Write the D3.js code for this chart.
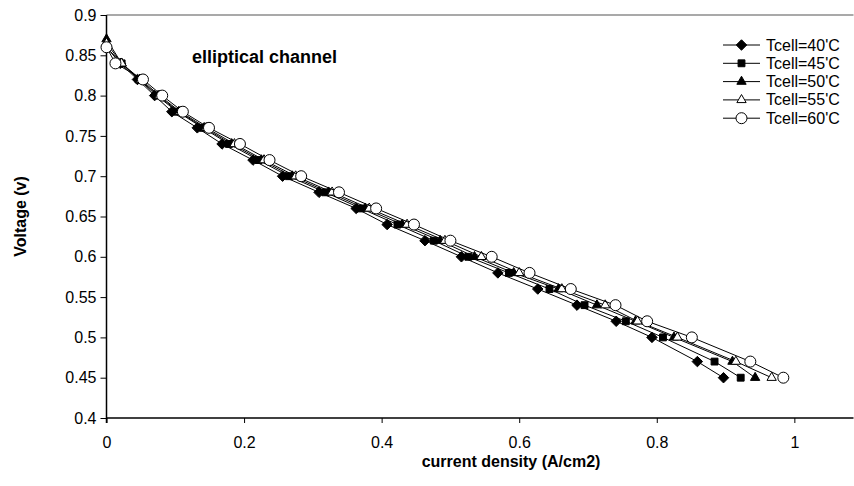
<!DOCTYPE html>
<html>
<head>
<meta charset="utf-8">
<script src="https://cdn.jsdelivr.net/npm/d3@7"></script>
<style>
    body { margin: 0; background: #fff; }
    text { font-family: Arial, "Liberation Sans", sans-serif; fill: #000; }
    .axis-title { font-weight: bold; font-size: 16px; }
    .tick-label { font-size: 16px; }
    .legend-label { font-size: 16px; }
</style>
</head>
<body>
<div id="chart-area"></div>
<script>
// Data: current density (A/cm2) at each voltage step
var voltage = [0.86, 0.84, 0.82, 0.80, 0.78, 0.76, 0.74, 0.72, 0.70, 0.68, 0.66,
               0.64, 0.62, 0.60, 0.58, 0.56, 0.54, 0.52, 0.50, 0.47, 0.45]
var voltage50 = [0.87].concat(voltage.slice(1))
var voltage55 = [0.865].concat(voltage.slice(1))

var current40 = [0, 0.020, 0.045, 0.070, 0.095, 0.132, 0.168, 0.213, 0.256, 0.309, 0.363,
                 0.408, 0.463, 0.516, 0.569, 0.627, 0.684, 0.741, 0.793, 0.859, 0.897]
var current45 = [0, 0.022, 0.047, 0.073, 0.103, 0.140, 0.178, 0.221, 0.265, 0.318, 0.370,
                 0.423, 0.476, 0.526, 0.585, 0.644, 0.695, 0.755, 0.809, 0.884, 0.922]
var current50 = [0, 0.022, 0.048, 0.075, 0.105, 0.142, 0.182, 0.225, 0.270, 0.323, 0.376,
                 0.430, 0.485, 0.535, 0.592, 0.657, 0.713, 0.769, 0.825, 0.910, 0.943]
var current55 = [0, 0.022, 0.050, 0.077, 0.107, 0.145, 0.186, 0.229, 0.275, 0.328, 0.382,
                 0.437, 0.492, 0.545, 0.600, 0.662, 0.725, 0.772, 0.830, 0.915, 0.967]
var current60 = [0, 0.013, 0.053, 0.081, 0.111, 0.149, 0.194, 0.237, 0.283, 0.338, 0.392,
                 0.447, 0.500, 0.560, 0.615, 0.675, 0.740, 0.786, 0.851, 0.936, 0.984]

var seriesNames = ["Tcell=40'C", "Tcell=45'C", "Tcell=50'C", "Tcell=55'C", "Tcell=60'C"]
var xTicks = [0, 0.2, 0.4, 0.6, 0.8, 1]
var yTicks = [0.4, 0.45, 0.5, 0.55, 0.6, 0.65, 0.7, 0.75, 0.8, 0.85, 0.9]

var series = [
    { name: seriesNames[0], marker: "diamond",  open: false, x: current40, y: voltage },
    { name: seriesNames[1], marker: "square",   open: false, x: current45, y: voltage },
    { name: seriesNames[2], marker: "triangle", open: false, x: current50, y: voltage50 },
    { name: seriesNames[3], marker: "triangle", open: true,  x: current55, y: voltage55 },
    { name: seriesNames[4], marker: "circle",   open: true,  x: current60, y: voltage }
]

// --> SVG drawing area
var width = 854, height = 486
var plot = { left: 106.5, right: 853.5, top: 15, bottom: 418 }

var svg = d3.select("#chart-area").append("svg")
    .attr("width", width)
    .attr("height", height)

var xScale = d3.scaleLinear()
    .domain([0, 1.086])
    .range([plot.left, plot.right])

var yScale = d3.scaleLinear()
    .domain([0.4, 0.9])
    .range([plot.bottom, plot.top])

// marker shapes
var symbolMap = {
    diamond: d3.symbol().type(d3.symbolDiamond2).size(70),
    square: d3.symbol().type(d3.symbolSquare2).size(60),
    triangle: d3.symbol().type(d3.symbolTriangle2).size(62),
    circle: d3.symbol().type(d3.symbolCircle).size(95)
}

// top border line (gray)
svg.append("line")
    .attr("x1", plot.left).attr("x2", plot.right)
    .attr("y1", yScale(0.9)).attr("y2", yScale(0.9))
    .style("stroke", "#8c8c8c")
    .style("stroke-width", 1.5)

// y axis
var yAxis = d3.axisLeft(yScale)
    .tickValues(yTicks)
    .tickSize(6)
    .tickPadding(4)
    .tickFormat(d => d3.format("")(+d.toFixed(2)))

svg.append("g")
    .attr("class", "y-axis")
    .attr("transform", "translate(" + plot.left + ",0)")
    .call(yAxis)

// x axis
var xAxis = d3.axisBottom(xScale)
    .tickValues(xTicks)
    .tickSize(5)
    .tickPadding(14)
    .tickFormat(d => d3.format("")(+d.toFixed(1)))

svg.append("g")
    .attr("class", "x-axis")
    .attr("transform", "translate(0," + plot.bottom + ")")
    .call(xAxis)

svg.selectAll(".x-axis path, .y-axis path")
    .attr("d", null)
svg.select(".x-axis").append("line")
    .attr("x1", plot.left).attr("x2", plot.right)
    .style("stroke", "#000").style("stroke-width", 1.5)
svg.select(".y-axis").append("line")
    .attr("y1", plot.top).attr("y2", plot.bottom + 5)
    .style("stroke", "#000").style("stroke-width", 1.5)

svg.selectAll(".tick line").style("stroke", "#000")
svg.selectAll(".tick text")
    .attr("class", "tick-label")
    .attr("font-size", null)
    .attr("font-family", null)

// axis titles
svg.append("text")
    .attr("class", "axis-title")
    .attr("x", 511)
    .attr("y", 467)
    .style("text-anchor", "middle")
    .text("current density (A/cm2)")

svg.append("text")
    .attr("class", "axis-title")
    .attr("transform", "translate(26," + ((plot.top + plot.bottom) / 2) + ") rotate(-90)")
    .style("text-anchor", "middle")
    .text("Voltage (v)")

// chart label
svg.append("text")
    .attr("x", 192)
    .attr("y", 63)
    .style("font-weight", "bold")
    .style("font-size", "18px")
    .text("elliptical channel")

// curves
var line = d3.line()
    .x(d => xScale(d[0]))
    .y(d => yScale(d[1]))

var seriesGroup = svg.selectAll(".series")
    .data(series)
    .enter()
    .append("g")
    .attr("class", "series")

seriesGroup.append("path")
    .attr("d", s => line(d3.zip(s.x, s.y)))
    .style("fill", "none")
    .style("stroke", "#000")
    .style("stroke-width", 1)

seriesGroup.each(function(s) {
    d3.select(this).selectAll(".marker")
        .data(d3.zip(s.x, s.y))
        .enter()
        .append("path")
        .attr("class", "marker")
        .attr("d", symbolMap[s.marker])
        .attr("transform", d => "translate(" + xScale(d[0]) + "," + yScale(d[1]) + ")")
        .style("fill", s.open ? "#fff" : "#000")
        .style("stroke", "#000")
        .style("stroke-width", 1)
})

// legend
var LEGEND_X = 723, LEGEND_Y = 45, LEGEND_ROW = 18.3

var legendGroup = svg.selectAll(".legend-item")
    .data(series)
    .enter()
    .append("g")
    .attr("class", "legend-item")
    .attr("transform", (s, i) => "translate(" + LEGEND_X + "," + (LEGEND_Y + i * LEGEND_ROW) + ")")

legendGroup.append("line")
    .attr("x1", 0).attr("x2", 37)
    .style("stroke", "#000")
    .style("stroke-width", 1)

legendGroup.append("path")
    .attr("d", s => symbolMap[s.marker]())
    .attr("transform", "translate(18.5,0)")
    .style("fill", s => s.open ? "#fff" : "#000")
    .style("stroke", "#000")

legendGroup.append("text")
    .attr("class", "legend-label")
    .attr("x", 43)
    .attr("y", 5.5)
    .text(s => s.name)
</script>
</body>
</html>
